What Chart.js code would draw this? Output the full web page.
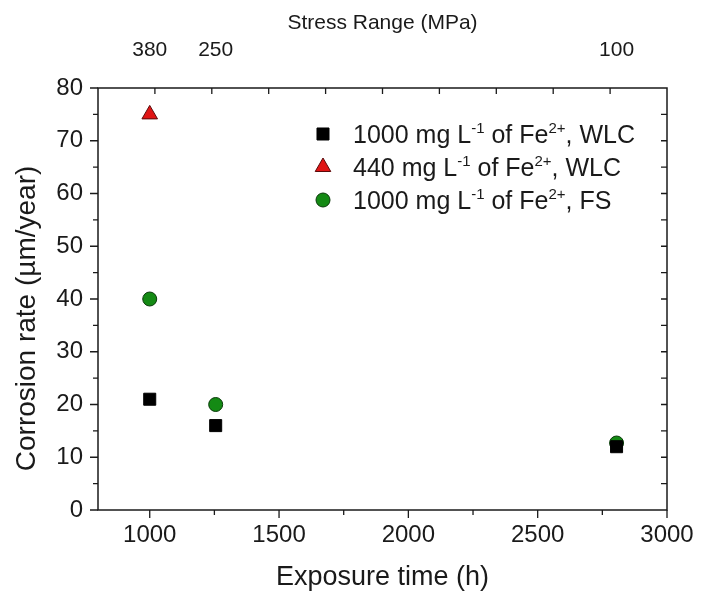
<!DOCTYPE html>
<html><head><meta charset="utf-8">
<script src="https://cdn.jsdelivr.net/npm/chart.js@4.4.1/dist/chart.umd.min.js"></script>
<style>html,body{margin:0;padding:0;background:#fff}#wrap{width:701px;height:594px;position:relative}</style>
</head><body><div id="wrap"><canvas id="c"></canvas></div>
<script>
// ---- data ----
const exposureTimes = [1000, 1255, 2805];
const wlc1000 = [21, 16, 12];
const wlc440Times = [1000];
const wlc440 = [75];
const fs1000 = [40, 20, 12.7];
const xTickValues = [1000, 1500, 2000, 2500, 3000];
const yTickValues = [0, 10, 20, 30, 40, 50, 60, 70, 80];
const stressTimes = [1000, 1255, 2805];
const stressLabels = ['380', '250', '100'];
const seriesNames = [
  '1000 mg L^{-1} of Fe^{2+}, WLC',
  '440 mg L^{-1} of Fe^{2+}, WLC',
  '1000 mg L^{-1} of Fe^{2+}, FS'
];

const FONT = "'Liberation Sans', Arial, sans-serif";
const INK = '#1a1a1a';

function pts(xs, ys) { return ys.map((y, i) => ({ x: xs[i], y })); }

const datasets = [
  { label: seriesNames[0], data: pts(exposureTimes, wlc1000), pointStyle: 'rect', pointRadius: 8.5,
    backgroundColor: '#000', borderColor: '#000', borderWidth: 1 },
  { label: seriesNames[1], data: pts(wlc440Times, wlc440), pointStyle: 'triangle', pointRadius: 9,
    backgroundColor: '#e01515', borderColor: '#5a0a0a', borderWidth: 1 },
  { label: seriesNames[2], data: pts(exposureTimes, fs1000), pointStyle: 'circle', pointRadius: 7,
    backgroundColor: '#148a14', borderColor: '#0a3a0a', borderWidth: 1 }
];

function fixedHeight(v) { return s => { s.height = v; s.paddingLeft = 0; s.paddingRight = 0; }; }
function fixedWidth(v) { return s => { s.width = v; s.paddingTop = 0; s.paddingBottom = 0; }; }

const framePlugin = {
  id: 'frame',
  beforeDatasetsDraw(chart) {
    const { ctx, chartArea: a, scales } = chart;
    ctx.save();
    ctx.strokeStyle = INK;
    ctx.lineWidth = 1.5;
    ctx.strokeRect(a.left, a.top, a.right - a.left, a.bottom - a.top);
    ctx.lineWidth = 1.3;
    ctx.beginPath();
    for (let v = 0; v <= 80; v += 5) {
      const y = scales.y.getPixelForValue(v);
      const len = v % 10 === 0 ? 8 : 5;
      ctx.moveTo(a.left, y); ctx.lineTo(a.left - len, y);
      if (v > 0 && v < 80) { ctx.moveTo(a.right, y); ctx.lineTo(a.right - 6, y); }
    }
    for (let v = 1000; v <= 3000; v += 250) {
      const x = scales.x.getPixelForValue(v);
      const len = v % 500 === 0 ? 8 : 5;
      ctx.moveTo(x, a.bottom); ctx.lineTo(x, a.bottom + len);
    }
    for (let k = 1; k < 10; k++) {
      const x = scales.x2.getPixelForValue(800 + 220 * k);
      ctx.moveTo(x, a.top); ctx.lineTo(x, a.top + 6);
    }
    ctx.stroke();
    ctx.restore();
  },
  afterDraw(chart) {
    const { ctx } = chart;
    const size = 25;
    const x0 = 323, tx = 353, rows = [134, 167, 200];
    ctx.save();
    chart.data.datasets.forEach((ds, i) => {
      const y = rows[i];
      ctx.fillStyle = ds.backgroundColor;
      ctx.strokeStyle = ds.borderColor;
      ctx.lineWidth = ds.borderWidth;
      Chart.helpers.drawPoint(ctx, { pointStyle: ds.pointStyle, radius: ds.pointRadius, borderWidth: ds.borderWidth }, x0, y);
      const parts = ds.label.split(/(\^\{[^}]*\})/).filter(Boolean);
      let x = tx;
      ctx.fillStyle = INK;
      ctx.textBaseline = 'alphabetic';
      ctx.textAlign = 'left';
      const base = y + size * 0.36;
      parts.forEach(p => {
        if (p.startsWith('^{')) {
          const t = p.slice(2, -1);
          ctx.font = `${Math.round(size * 0.6)}px ${FONT}`;
          ctx.fillText(t, x, base - size * 0.4);
          x += ctx.measureText(t).width;
        } else {
          ctx.font = `${size}px ${FONT}`;
          ctx.fillText(p, x, base);
          x += ctx.measureText(p).width;
        }
      });
    });
    ctx.restore();
  }
};

new Chart(document.getElementById('c'), {
  type: 'scatter',
  data: { datasets },
  options: {
    responsive: true,
    maintainAspectRatio: false,
    animation: false,
    layout: { padding: 0 },
    plugins: { legend: { display: false }, tooltip: { enabled: false } },
    scales: {
      x: {
        type: 'linear', position: 'bottom', min: 800, max: 3000,
        afterBuildTicks: s => { s.ticks = xTickValues.map(v => ({ value: v })); },
        ticks: { font: { family: FONT, size: 24 }, color: INK, padding: 11, maxRotation: 0, autoSkip: false,
          callback: v => String(v) },
        grid: { display: false, drawTicks: false }, border: { display: false },
        title: { display: true, text: 'Exposure time (h)', font: { family: FONT, size: 27 }, color: INK, padding: { top: 0, bottom: 0 } },
        afterFit: fixedHeight(84)
      },
      x2: {
        type: 'linear', position: 'top', min: 800, max: 3000,
        afterBuildTicks: s => { s.ticks = stressTimes.map(v => ({ value: v })); },
        ticks: { font: { family: FONT, size: 21 }, color: INK, padding: 25, maxRotation: 0, autoSkip: false,
          callback: v => stressLabels[stressTimes.indexOf(v)] },
        grid: { display: false, drawTicks: false }, border: { display: false },
        title: { display: true, text: 'Stress Range (MPa)', font: { family: FONT, size: 21 }, color: INK, padding: { top: 11, bottom: 0 } },
        afterFit: fixedHeight(88)
      },
      y: {
        type: 'linear', position: 'left', min: 0, max: 80,
        afterBuildTicks: s => { s.ticks = yTickValues.map(v => ({ value: v })); },
        ticks: { font: { family: FONT, size: 24 }, color: INK, padding: 15 },
        grid: { display: false, drawTicks: false }, border: { display: false },
        title: { display: true, text: 'Corrosion rate (\u00b5m/year)     ', font: { family: FONT, size: 28 }, color: INK, padding: { top: 10, bottom: 0 } },
        afterFit: fixedWidth(98)
      },
      y2: {
        type: 'linear', position: 'right', min: 0, max: 80,
        ticks: { display: false },
        grid: { display: false, drawTicks: false }, border: { display: false },
        afterFit: fixedWidth(34)
      }
    }
  },
  plugins: [framePlugin]
});
</script>
</body></html>
